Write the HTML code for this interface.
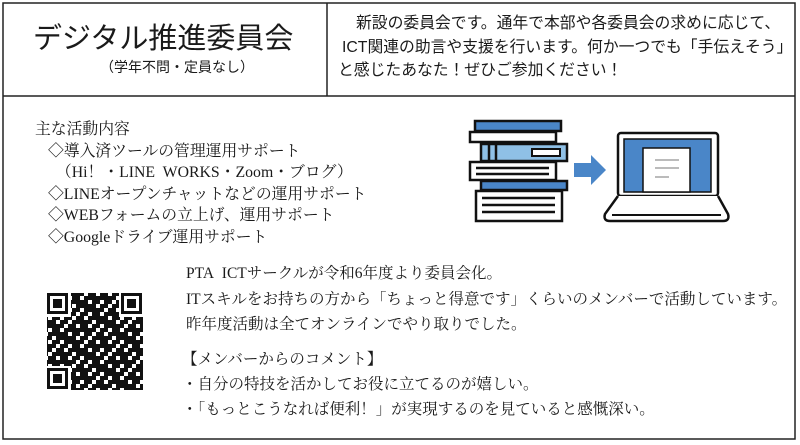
<!DOCTYPE html>
<html><head><meta charset="utf-8"><style>
html,body{margin:0;padding:0;background:#fff;}
body{width:800px;height:445px;position:relative;overflow:hidden;}
.t{position:absolute;white-space:nowrap;color:#1a1a1a;line-height:1;}
.s{font-family:"Liberation Sans","Noto Sans CJK JP",sans-serif;}
.m{font-family:"Liberation Serif","Noto Serif CJK SC",serif;}
</style></head><body>
<svg width="800" height="445" style="position:absolute;left:0;top:0">
<rect x="3" y="3" width="792" height="436" fill="none" stroke="#222" stroke-width="1.5"/>
<line x1="327" y1="3" x2="327" y2="96" stroke="#222" stroke-width="1.5"/>
<line x1="3" y1="96" x2="795" y2="96" stroke="#222" stroke-width="1.5"/>
<g stroke="#111" stroke-width="2.5">
<rect x="475" y="121" width="86" height="10" fill="#4a86c8"/>
<rect x="470" y="132" width="86" height="10" fill="#fff"/>
<rect x="481" y="144" width="86" height="17" fill="#8fc0e6"/>
<rect x="532" y="149" width="28" height="7" fill="#fff" stroke-width="2"/>
<line x1="489" y1="145" x2="489" y2="160"/><line x1="496" y1="145" x2="496" y2="160"/>
<rect x="470" y="162" width="86" height="18" fill="#fff"/>
<line x1="476" y1="168" x2="549" y2="168"/><line x1="476" y1="174" x2="549" y2="174"/>
<rect x="481" y="181" width="86" height="9" fill="#4a86c8"/>
<rect x="476" y="191" width="86" height="30" fill="#fff"/>
<line x1="482" y1="198" x2="555" y2="198"/><line x1="482" y1="205" x2="555" y2="205"/><line x1="482" y1="212" x2="555" y2="212"/>
</g>
<polygon points="574,163 591,163 591,155 606,170 591,185 591,177 574,177" fill="#4a86c8"/>
<rect x="618" y="133" width="100" height="63" rx="3" fill="#fff" stroke="#111" stroke-width="2.5"/>
<rect x="624" y="139" width="87" height="53" fill="#4a86c8" stroke="#111" stroke-width="1.5"/>
<rect x="643" y="148" width="47" height="44" fill="#fff" stroke="#111" stroke-width="1.5"/>
<g stroke="#bbb" stroke-width="2"><line x1="655" y1="160" x2="679" y2="160"/><line x1="655" y1="168" x2="679" y2="168"/><line x1="655" y1="177" x2="669" y2="177"/></g>
<path d="M618 196 L605 214 Q603 221 610 221 L723 221 Q730 221 728 214 L718 196" fill="#fff" stroke="#111" stroke-width="2.5"/>
<line x1="612" y1="215" x2="721" y2="215" stroke="#111" stroke-width="2"/>
<defs><pattern id="q" width="12" height="12" patternUnits="userSpaceOnUse">
<rect x="0" y="0" width="4" height="4" fill="#111"/><rect x="8" y="0" width="4" height="8" fill="#111"/><rect x="4" y="4" width="4" height="4" fill="#111"/><rect x="0" y="8" width="8" height="4" fill="#111"/></pattern>
<pattern id="q2" width="20" height="16" patternUnits="userSpaceOnUse">
<rect x="0" y="0" width="8" height="4" fill="#111"/><rect x="12" y="4" width="4" height="8" fill="#111"/><rect x="4" y="8" width="4" height="4" fill="#111"/><rect x="16" y="12" width="4" height="4" fill="#111"/></pattern></defs>
<rect x="47" y="293" width="96" height="97" fill="url(#q)"/>
<rect x="47" y="293" width="96" height="97" fill="url(#q2)"/>
<g fill="#fff"><rect x="47" y="293" width="24" height="24"/><rect x="119" y="293" width="24" height="24"/><rect x="47" y="366" width="24" height="24"/></g>
<g fill="none" stroke="#111" stroke-width="3"><rect x="48.5" y="294.5" width="18" height="18"/><rect x="122.5" y="294.5" width="18" height="18"/><rect x="48.5" y="369.5" width="18" height="18"/></g>
<g fill="#111"><rect x="53" y="299" width="9" height="9"/><rect x="127" y="299" width="9" height="9"/><rect x="53" y="374" width="9" height="9"/></g>
</svg>
<div class="t s" style="left:33px;top:25px;font-size:29px;">デジタル推進委員会</div>
<div class="t s" style="left:100px;top:60px;font-size:14px;">（学年不問・定員なし）</div>
<div class="t s" style="left:356px;top:16px;font-size:15.8px;">新設の委員会です。通年で本部や各委員会の求めに応じて、</div>
<div class="t s" style="left:342px;top:40px;font-size:15.8px;">ICT関連の助言や支援を行います。何か一つでも「手伝えそう」</div>
<div class="t s" style="left:338px;top:63px;font-size:15.8px;">と感じたあなた！ぜひご参加ください！</div>
<div class="t m" style="left:35px;top:119px;font-size:15.8px;line-height:21.6px;">主な活動内容</div>
<div class="t m" style="left:48px;top:140.6px;font-size:15.8px;line-height:21.6px;">◇導入済ツールの管理運用サポート<br>&nbsp;&nbsp;（Hi！・LINE&nbsp; WORKS・Zoom・ブログ）<br>◇LINEオープンチャットなどの運用サポート<br>◇WEBフォームの立上げ、運用サポート<br>◇Googleドライブ運用サポート</div>
<div class="t m" style="left:186px;top:266px;font-size:15.5px;">PTA&nbsp; ICTサークルが令和6年度より委員会化。</div>
<div class="t m" style="left:186px;top:292px;font-size:15.5px;">ITスキルをお持ちの方から「ちょっと得意です」くらいのメンバーで活動しています。</div>
<div class="t m" style="left:186px;top:317px;font-size:15.5px;">昨年度活動は全てオンラインでやり取りでした。</div>
<div class="t m" style="left:182px;top:352px;font-size:15.5px;">【メンバーからのコメント】</div>
<div class="t m" style="left:182px;top:377px;font-size:15.5px;">・自分の特技を活かしてお役に立てるのが嬉しい。</div>
<div class="t m" style="left:182px;top:402px;font-size:15.5px;">・「もっとこうなれば便利！」が実現するのを見ていると感慨深い。</div>
</body></html>
